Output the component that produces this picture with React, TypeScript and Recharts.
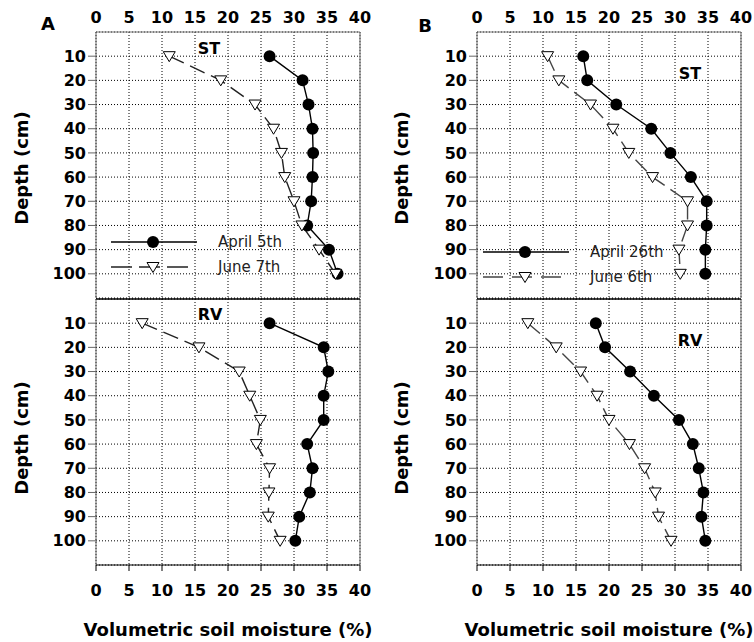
import React from "react";
import { LineChart, Line, XAxis, YAxis, CartesianGrid, ReferenceLine, Label, Legend } from "recharts";

const depths = [10, 20, 30, 40, 50, 60, 70, 80, 90, 100];
const xTicks = [0, 5, 10, 15, 20, 25, 30, 35, 40];
const yTicks = [10, 20, 30, 40, 50, 60, 70, 80, 90, 100];

// Panel A (April 5th / June 7th)
const aStApril = [26.3, 31.3, 32.2, 32.8, 32.9, 32.8, 32.6, 32.0, 35.3, 36.6];
const aStJune = [11.1, 18.9, 24.1, 26.9, 28.1, 28.6, 30.0, 31.2, 33.8, 36.3];
const aRvApril = [26.3, 34.5, 35.2, 34.5, 34.5, 32.0, 32.8, 32.4, 30.8, 30.2];
const aRvJune = [7.0, 15.6, 21.7, 23.3, 24.9, 24.3, 26.3, 26.2, 26.1, 27.9];

// Panel B (April 26th / June 6th)
const bStApril = [16.1, 16.7, 21.1, 26.4, 29.3, 32.4, 34.8, 34.8, 34.6, 34.6];
const bStJune = [10.7, 12.4, 17.2, 20.6, 23.0, 26.6, 31.9, 31.9, 30.6, 30.8];
const bRvApril = [18.0, 19.4, 23.2, 26.8, 30.6, 32.7, 33.6, 34.3, 34.0, 34.6];
const bRvJune = [7.7, 12.0, 15.7, 18.2, 20.0, 23.1, 25.4, 27.0, 27.5, 29.4];

const legendA = ["April 5th", "June 7th"];
const legendB = ["April 26th", "June 6th"];

const FONT = "DejaVu Sans";

const build = (apr: number[], jun: number[]) =>
  depths.map((d, i) => ({ depth: d, apr: apr[i], jun: jun[i] }));

const TriDot = (props: any) => {
  const { cx, cy, index } = props;
  if (cx == null || cy == null) return null;
  return (
    <path
      key={`t-${index}`}
      d={`M${cx - 6},${cy - 4.5}L${cx + 6},${cy - 4.5}L${cx},${cy + 5.5}Z`}
      fill="#fff"
      stroke="#000"
      strokeWidth={1}
    />
  );
};

const yTitle = (dxFromLeft: number, dy: number) => (props: any) => {
  const vb = props.viewBox || {};
  const cx = (vb.x || 0) + dxFromLeft;
  const cy = (vb.y || 0) + (vb.height || 0) / 2 + dy;
  return (
    <text
      x={cx}
      y={cy}
      transform={`rotate(-90, ${cx}, ${cy})`}
      textAnchor="middle"
      dominantBaseline="central"
      fontFamily={FONT}
      fontWeight="bold"
      fontSize={18}
      fill="#000"
    >
      Depth (cm)
    </text>
  );
};

const makeLegend = (labels: string[], dash: string, lineColor: string) => () => (
  <svg width={230} height={50} style={{ display: "block" }}>
    <line x1={6} y1={12} x2={92} y2={12} stroke="#000" strokeWidth={1.4} />
    <circle cx={48} cy={12} r={6} fill="#000" />
    <text x={113} y={17} fontFamily={FONT} fontSize={15} fill="#222">{labels[0]}</text>
    <line x1={6} y1={37} x2={84} y2={37} stroke={lineColor} strokeWidth={1.4} strokeDasharray={dash} />
    <path d={`M${48 - 6},${37 - 4.5}L${48 + 6},${37 - 4.5}L${48},${37 + 5.5}Z`} fill="#fff" stroke="#000" strokeWidth={1} />
    <text x={113} y={42} fontFamily={FONT} fontSize={15} fill="#222">{labels[1]}</text>
  </svg>
);

const tickStyle = { fontSize: 16, fontWeight: "bold", fill: "#000", fontFamily: FONT } as any;

type PanelProps = {
  data: any[];
  top: boolean;
  left: number;
  yWidth: number;
  rightMargin: number;
  titleDx: number;
  junColor: string;
  legend?: { labels: string[]; left: number; top: number; dash: string };
};

const Panel = ({ data, top, left, yWidth, rightMargin, titleDx, junColor, legend }: PanelProps) => {
  const height = top ? 299 : 344;
  const chartTop = top ? 0 : 298;
  return (
    <div style={{ position: "absolute", left, top: chartTop, width: 377, height }}>
      <LineChart
        width={377}
        height={height}
        data={data}
        layout="vertical"
        margin={top ? { top: 0, right: rightMargin, bottom: 1, left: 0 } : { top: 1, right: rightMargin, bottom: 0, left: 0 }}
      >
        <CartesianGrid stroke="#000" strokeDasharray="1 2" strokeWidth={1} />
        {top ? (
          <XAxis
            type="number"
            dataKey="apr"
            orientation="top"
            domain={[0, 40]}
            ticks={xTicks}
            interval={0}
            height={32}
            axisLine={{ stroke: "#777" }}
            tickLine={false}
            tickSize={0}
            tickMargin={9}
            tick={tickStyle}
            allowDataOverflow
          />
        ) : (
          <XAxis
            type="number"
            dataKey="apr"
            orientation="bottom"
            domain={[0, 40]}
            ticks={xTicks}
            interval={0}
            height={77}
            axisLine={{ stroke: "#000" }}
            tickLine={{ stroke: "#000" }}
            tickSize={6}
            tickMargin={14}
            tick={tickStyle}
            allowDataOverflow
          >
            <Label
              value="Volumetric soil moisture (%)"
              position="insideBottom"
              offset={6}
              style={{ fontFamily: FONT, fontWeight: "bold", fontSize: 18, fill: "#000" }}
            />
          </XAxis>
        )}
        <YAxis
          type="number"
          dataKey="depth"
          domain={[0, 110]}
          ticks={yTicks}
          interval={0}
          width={yWidth}
          axisLine={{ stroke: "#666" }}
          tickLine={{ stroke: "#666" }}
          tickSize={8}
          tickMargin={2}
          tick={tickStyle}
          allowDataOverflow
        >
          <Label content={yTitle(titleDx, top ? 3 : 6)} />
        </YAxis>
        <ReferenceLine x={40} stroke="#777" strokeWidth={1.2} ifOverflow="visible" />
        {!top && <ReferenceLine y={0} stroke="#000" strokeWidth={1.5} ifOverflow="visible" />}
        <Line
          dataKey="apr"
          stroke="#000"
          strokeWidth={1.4}
          dot={{ r: 6, fill: "#000", stroke: "#000", strokeWidth: 0 }}
          isAnimationActive={false}
          legendType="none"
        />
        <Line
          dataKey="jun"
          stroke={junColor}
          strokeWidth={1.4}
          strokeDasharray="16 7"
          dot={TriDot}
          isAnimationActive={false}
          legendType="none"
        />
        {legend && (
          <Legend
            layout="horizontal"
            verticalAlign="middle"
            align="center"
            content={makeLegend(legend.labels, legend.dash, junColor)}
            wrapperStyle={{ left: legend.left, top: legend.top, width: 230, height: 50 }}
          />
        )}
      </LineChart>
    </div>
  );
};

const textStyle = { fontFamily: FONT, fontWeight: "bold" as const, fill: "#000" };

export default function App() {
  return (
    <div style={{ position: "absolute", left: 0, top: 0, width: 754, height: 642, background: "#fff", fontFamily: FONT }}>
      <Panel
        data={build(aStApril, aStJune)}
        top
        left={0}
        yWidth={96}
        rightMargin={17}
        titleDx={21}
        junColor="#222"
        legend={{ labels: legendA, left: 105, top: 230, dash: "21 7" }}
      />
      <Panel data={build(aRvApril, aRvJune)} top={false} left={0} yWidth={96} rightMargin={17} titleDx={21} junColor="#222" />
      <Panel
        data={build(bStApril, bStJune)}
        top
        left={377}
        yWidth={100}
        rightMargin={13}
        titleDx={24}
        junColor="#444"
        legend={{ labels: legendB, left: 100, top: 240, dash: "20 9" }}
      />
      <Panel data={build(bRvApril, bRvJune)} top={false} left={377} yWidth={100} rightMargin={13} titleDx={24} junColor="#444" />
      <svg width={754} height={642} style={{ position: "absolute", left: 0, top: 0, pointerEvents: "none" }}>
        <text x={48} y={30} textAnchor="middle" fontSize={18} {...textStyle}>A</text>
        <text x={425} y={32} textAnchor="middle" fontSize={18} {...textStyle}>B</text>
        <text x={209} y={54} textAnchor="middle" fontSize={16} {...textStyle}>ST</text>
        <text x={210} y={320} textAnchor="middle" fontSize={16} {...textStyle}>RV</text>
        <text x={690} y={79} textAnchor="middle" fontSize={16} {...textStyle}>ST</text>
        <text x={690} y={346} textAnchor="middle" fontSize={16} {...textStyle}>RV</text>
      </svg>
    </div>
  );
}
